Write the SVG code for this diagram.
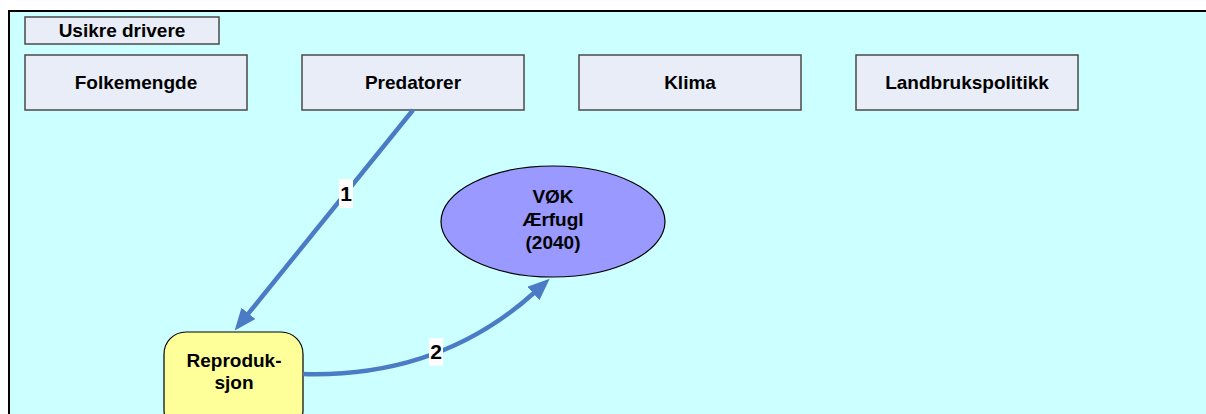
<svg xmlns="http://www.w3.org/2000/svg" width="1206" height="414" viewBox="0 0 1206 414">
<style>
.t{font-family:"Liberation Sans",Arial,sans-serif;font-weight:bold;font-size:19px;fill:#000;text-anchor:middle}
.box{fill:#E8EDF7;stroke:#4a4a4a;stroke-width:1.5}
.con{fill:none;stroke:#4A7BC4;stroke-width:4.5}
.lbl{fill:#fff}
</style>
<defs>
<marker id="ah" markerUnits="userSpaceOnUse" markerWidth="24" markerHeight="20" refX="3" refY="9" orient="auto">
<path d="M0,0 L22,9 L0,18 z" fill="#4A7BC4"/>
</marker>
</defs>
<rect x="0" y="0" width="1206" height="414" fill="#fff"/>
<rect x="9" y="11" width="1260" height="450" fill="#CCFFFF" stroke="#000" stroke-width="2"/>
<g id="usikre"><rect class="box" x="25" y="17" width="194" height="27"/><text class="t" x="122" y="37">Usikre drivere</text></g>
<g id="folkemengde"><rect class="box" x="25" y="55" width="222" height="55"/><text class="t" x="136" y="89">Folkemengde</text></g>
<g id="predatorer"><rect class="box" x="302" y="55" width="222" height="55"/><text class="t" x="413" y="89">Predatorer</text></g>
<g id="klima"><rect class="box" x="579" y="55" width="222" height="55"/><text class="t" x="690" y="89">Klima</text></g>
<g id="landbruk"><rect class="box" x="856" y="55" width="222" height="55"/><text class="t" x="967" y="89">Landbrukspolitikk</text></g>
<g id="vok"><ellipse cx="553" cy="221.5" rx="112" ry="55.5" fill="#9999FF" stroke="#000" stroke-width="1.2"/><text class="t" x="553" y="203">VØK</text><text class="t" x="553" y="226">Ærfugl</text><text class="t" x="553" y="249">(2040)</text></g>
<g id="reproduksjon"><rect x="164" y="332" width="139" height="100" rx="22" fill="#FFFF99" stroke="#000" stroke-width="1.2"/><text class="t" x="234" y="367">Reproduk-</text><text class="t" x="234" y="389">sjon</text></g>
<g id="connectors">
<path class="con" d="M413,110 L246.6,315.7" marker-end="url(#ah)"/>
<path class="con" d="M303,374 Q440,378 535.6,291.5" marker-end="url(#ah)"/>
<rect class="lbl" x="339" y="179" width="14" height="29"/><text class="t" x="346" y="201" style="font-size:21px">1</text>
<rect class="lbl" x="429" y="338" width="14" height="28"/><text class="t" x="436" y="359" style="font-size:21px">2</text>
</g>
</svg>
